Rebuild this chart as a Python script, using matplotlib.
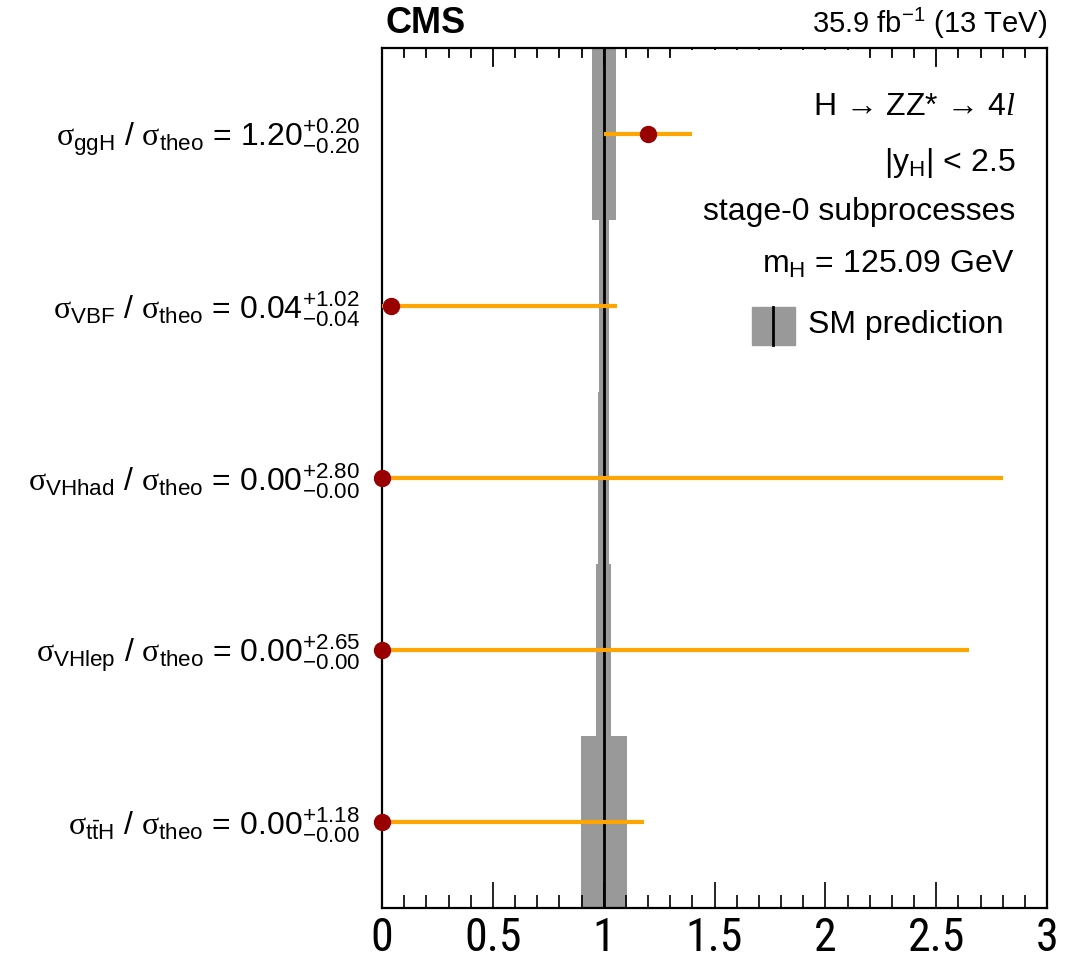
import numpy as np
import matplotlib
matplotlib.use('Agg')
import matplotlib.pyplot as plt
from matplotlib.patches import Rectangle
from matplotlib.ticker import MultipleLocator, FormatStrFormatter

plt.rcParams['font.family'] = ['Liberation Sans', 'DejaVu Sans']
plt.rcParams['mathtext.fontset'] = 'custom'
plt.rcParams['mathtext.rm'] = 'Liberation Sans'
plt.rcParams['mathtext.it'] = 'Liberation Serif'
plt.rcParams['mathtext.cal'] = 'Liberation Serif:italic'
plt.rcParams['mathtext.bf'] = 'Liberation Sans:bold'
plt.rcParams['mathtext.default'] = 'rm'

# stage-0 signal strengths (top to bottom)
processes = ['ggH', 'VBF', 'VHhad', 'VHlep', r't\bar{t}H']
mu = [1.20, 0.04, 0.00, 0.00, 0.00]
err_up = [0.20, 1.02, 2.80, 2.65, 1.18]
err_dn = [0.20, 0.04, 0.00, 0.00, 0.00]
# theory uncertainty on SM prediction (half width of grey band)
theo_unc = [0.054, 0.023, 0.025, 0.034, 0.103]

orange = '#ffa500'
darkred = '#990000'
grey = '#999999'

fig = plt.figure(figsize=(10.78, 9.6), dpi=100)
ax = fig.add_axes([0.3544, 0.0542, 0.6169, 0.8958])

rows = np.arange(len(processes)) + 0.5
mu = np.array(mu)
up = np.array(err_up)
dn = np.array(err_dn)
theo = np.array(theo_unc)

# SM prediction bands + line
ax.barh(rows, 2 * theo, left=1 - theo, height=1.0, color=grey, zorder=1)
ax.axvline(1.0, color='black', lw=2, zorder=2)

# measured values
ax.hlines(rows, mu - dn, mu + up, color=orange, lw=3, zorder=4)
ax.plot(mu, rows, 'o', color=darkred, ms=11.5, zorder=5, clip_on=False)

ax.set_xlim(0, 3)
ax.set_ylim(5, 0)
ax.set_yticks([])
ax.xaxis.set_major_locator(MultipleLocator(0.5))
ax.xaxis.set_minor_locator(MultipleLocator(0.1))
ax.xaxis.set_major_formatter(FormatStrFormatter('%g'))
ax.tick_params(axis='x', which='both', direction='in', top=False, bottom=True,
               width=1.2, labelsize=33, pad=6)
ax.tick_params(axis='x', which='major', length=19)
ax.tick_params(axis='x', which='minor', length=9.5)
for lab in ax.get_xticklabels():
    lab.set_family(['Roboto Condensed', 'Liberation Sans'])
for sp in ax.spines.values():
    sp.set_linewidth(1.6)

# top ticks (shorter than the bottom ones), drawn as one polyline with gaps
top_locs = np.round(np.arange(0, 3.05, 0.1), 2)
is_major = np.isclose(np.round(top_locs * 10) % 5, 0)
tick_len = np.where(is_major, 18 / 860, 9 / 860)
xs = np.column_stack([top_locs, top_locs, np.full_like(top_locs, np.nan)]).ravel()
ys = np.column_stack([np.ones_like(top_locs), 1 - tick_len,
                      np.full_like(top_locs, np.nan)]).ravel()
ax.plot(xs, ys, color='black', lw=1.3, zorder=6, clip_on=False,
        transform=ax.get_xaxis_transform())
ax.set_xlim(0, 3)
ax.set_ylim(5, 0)

# white box hiding part of the top ticks
ax.add_patch(Rectangle((0.441, 1 - 21 / 860), 0.28, 19 / 860, transform=ax.transAxes,
                       facecolor='white', edgecolor='none', zorder=7, clip_on=False))

# row labels
for y, name, m, u, d in zip(rows, processes, mu, up, dn):
    txt = (r'$\mathit{\sigma}_{%s}$ / $\mathit{\sigma}_{theo}$ = %.2f$^{+%.2f}_{-%.2f}$'
           % (name, m, u, d))
    ax.text(-0.033, y + 0.07, txt, transform=ax.get_yaxis_transform(),
            ha='right', va='baseline', fontsize=23)

# header
ax.text(0.005, 1.008, 'CMS', transform=ax.transAxes, ha='left', va='bottom',
        fontsize=26, fontweight='bold')
ax.text(1.0, 1.008, r'35.9 fb$^{-1}$ (13 TeV)', transform=ax.transAxes,
        ha='right', va='bottom', fontsize=21)

# legend block
info = ['H \u2192 ZZ* \u2192 4$\\mathcal{l}$',
        r'|y$_{H}$| < 2.5',
        'stage-0 subprocesses',
        r'm$_{H}$ = 125.09 GeV']
info_y = [0.931, 0.866, 0.809, 0.748]
for t, yy in zip(info, info_y):
    ax.text(0.952, yy, t, transform=ax.transAxes, ha='right', va='center', fontsize=23)

ax.add_patch(Rectangle((0.556, 0.655), 0.065, 0.044, transform=ax.transAxes,
                       color=grey, zorder=3))
ax.plot([0.5885, 0.5885], [0.655, 0.699], transform=ax.transAxes, color='black',
        lw=2, zorder=4)
ax.text(0.64, 0.678, 'SM prediction', transform=ax.transAxes, ha='left', va='center',
        fontsize=23)

fig.savefig('out.png', dpi=100)
